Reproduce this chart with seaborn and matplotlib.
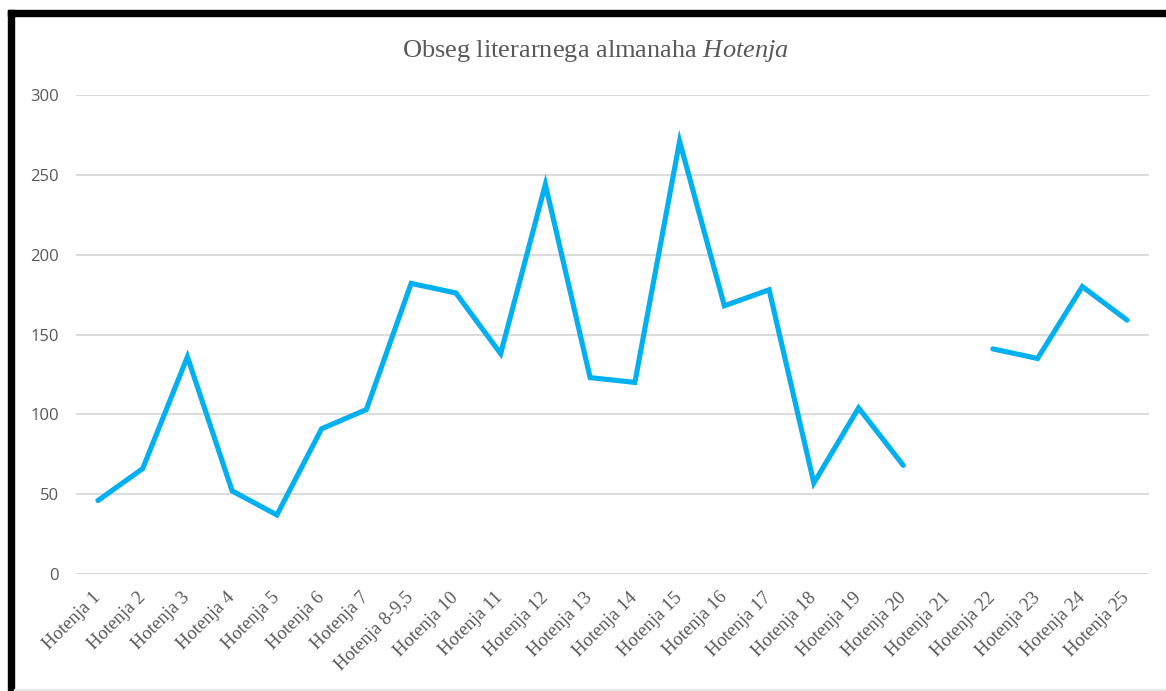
import numpy as np
import pandas as pd
import matplotlib.pyplot as plt
import seaborn as sns
from matplotlib.patches import Rectangle

# Podatki
izdaje = ['Hotenja 1', 'Hotenja 2', 'Hotenja 3', 'Hotenja 4', 'Hotenja 5',
          'Hotenja 6', 'Hotenja 7', 'Hotenja 8-9,5', 'Hotenja 10', 'Hotenja 11',
          'Hotenja 12', 'Hotenja 13', 'Hotenja 14', 'Hotenja 15', 'Hotenja 16',
          'Hotenja 17', 'Hotenja 18', 'Hotenja 19', 'Hotenja 20', 'Hotenja 21',
          'Hotenja 22', 'Hotenja 23', 'Hotenja 24', 'Hotenja 25']
strani = [46, 66, 136, 52, 37, 91, 103, 182, 176, 138, 244, 123, 120, 271,
          168, 178, 57, 104, 68, np.nan, 141, 135, 180, 159]
y_ticks = [0, 50, 100, 150, 200, 250, 300]

df = pd.DataFrame({'izdaja': izdaje, 'strani': strani})
df['pos'] = np.arange(len(df))
# segmenti, da ostane vrzel pri manjkajoci vrednosti
df['segment'] = df['strani'].isna().cumsum()

sns.set_theme(style='white')
plt.rcParams['font.family'] = ['Liberation Serif', 'DejaVu Serif']
plt.rcParams['mathtext.fontset'] = 'custom'
plt.rcParams['mathtext.rm'] = 'Liberation Serif'
plt.rcParams['mathtext.it'] = 'Liberation Serif:italic'

siva = '#595959'
fig = plt.figure(figsize=(11.66, 6.91), dpi=100)
ax = fig.add_axes([0.0648, 0.1693, 0.921, 0.6932])

sns.lineplot(data=df.dropna(), x='pos', y='strani', units='segment',
             estimator=None, color='#00B0F0', linewidth=3.7, ax=ax,
             solid_joinstyle='miter')

ax.set_xlim(-0.5, len(izdaje) - 0.5)
ax.set_ylim(0, 300)
ax.set_yticks(y_ticks)
ax.set_yticklabels([str(v) for v in y_ticks], family=['Open Sans', 'DejaVu Sans'],
                   fontsize=12, color=siva)
ax.set_xticks(df['pos'])
ax.set_xticklabels(izdaje, rotation=45, ha='right', va='center',
                   rotation_mode='anchor', fontsize=13.5, color=siva)
ax.tick_params(axis='both', length=0)
ax.tick_params(axis='x', pad=15)
ax.tick_params(axis='y', pad=12)
ax.yaxis.grid(True, color='#D9D9D9', linewidth=1.3)
ax.set_axisbelow(True)
ax.set_xlabel('')
ax.set_ylabel('')
sns.despine(ax=ax, left=True, bottom=True)

fig.text(0.511, 0.926, r'Obseg literarnega almanaha $\mathit{Hotenja}$',
         ha='center', va='center', fontsize=19, color=siva)

# okvir posnetka zaslona
fig.patches.append(Rectangle((8 / 1166, 1 - 16 / 691), 1, 6 / 691,
                             transform=fig.transFigure, color='black'))
fig.patches.append(Rectangle((8 / 1166, 0), 6 / 1166, 1 - 10 / 691,
                             transform=fig.transFigure, color='black'))
fig.patches.append(Rectangle((14 / 1166, 1 / 691), 1, 1.5 / 691,
                             transform=fig.transFigure, color='#E6E6E6'))

fig.savefig('out.png', dpi=100)
